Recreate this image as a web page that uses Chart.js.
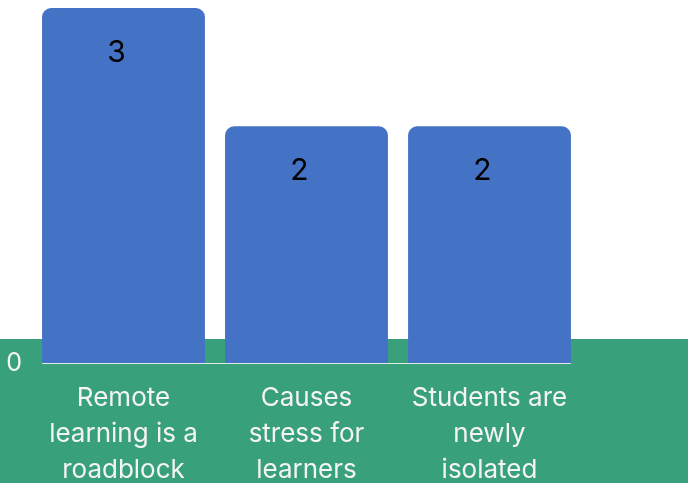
<!DOCTYPE html>
<html>
<head>
<meta charset="utf-8">
<script src="https://cdn.jsdelivr.net/npm/chart.js@4"></script>
<style>
  body { margin: 0; background: #fff; }
  #wrap { width: 688px; height: 483px; }
</style>
</head>
<body>
<div id="wrap"><canvas id="barChart"></canvas></div>
<script>
const categories = [
  ["Remote", "learning is a", "roadblock"],
  ["Causes", "stress for", "learners"],
  ["Students are", "newly", "isolated"]
];
const counts = [3, 2, 2];
const yMax = 3;

// green band behind the axis area
const bandPlugin = {
  id: "band",
  beforeDraw(chart) {
    const { ctx, chartArea, width, height } = chart;
    ctx.save();
    ctx.fillStyle = "#38a07a";
    ctx.fillRect(0, chartArea.bottom - 24, width, height);
    // thin baseline from first to last bar
    const bars = chart.getDatasetMeta(0).data;
    if (bars.length) {
      const first = bars[0], last = bars[bars.length - 1];
      ctx.strokeStyle = "#dfe9e4";
      ctx.lineWidth = 1;
      ctx.beginPath();
      ctx.moveTo(first.x - first.width / 2, chartArea.bottom + 0.5);
      ctx.lineTo(last.x + last.width / 2, chartArea.bottom + 0.5);
      ctx.stroke();
    }
    ctx.restore();
  }
};

// value labels inside bars
const valuePlugin = {
  id: "values",
  afterDatasetsDraw(chart) {
    const ctx = chart.ctx;
    const meta = chart.getDatasetMeta(0);
    ctx.save();
    ctx.font = "30px Inter";
    ctx.fillStyle = "#000";
    ctx.textAlign = "center";
    ctx.textBaseline = "middle";
    meta.data.forEach((bar, i) => {
      ctx.fillText(String(counts[i]), bar.x - 7, bar.y + 45);
    });
    ctx.restore();
  }
};

new Chart(document.getElementById("barChart"), {
  type: "bar",
  data: {
    labels: categories,
    datasets: [{
      data: counts,
      backgroundColor: "#4472c4",
      borderRadius: { topLeft: 9, topRight: 9 },
      borderSkipped: "bottom",
      barPercentage: 0.89,
      categoryPercentage: 1
    }]
  },
  options: {
    responsive: true,
    maintainAspectRatio: false,
    animation: false,
    layout: { padding: { top: 8, right: 107, left: 0, bottom: 0 } },
    plugins: { legend: { display: false }, tooltip: { enabled: false } },
    scales: {
      x: {
        grid: { display: false, drawTicks: false },
        border: { display: false },
        ticks: {
          color: "#f4f4f4",
          font: { family: "Inter", size: 26, lineHeight: 1.38 },
          padding: 17,
          maxRotation: 0,
          autoSkip: false
        },
        afterFit(scale) {
          scale.height = 120;
          scale.paddingLeft = 0;
          scale.paddingRight = 0;
        }
      },
      y: {
        min: 0,
        max: yMax,
        grid: { display: false, drawTicks: false },
        border: { display: false },
        ticks: {
          stepSize: 1,
          color: "#f4f4f4",
          font: { family: "Inter", size: 25 },
          padding: 10,
          callback: v => (v === 0 ? "0" : "")
        },
        afterFit(scale) {
          scale.width = 32;
          scale.paddingTop = 0;
          scale.paddingBottom = 0;
        }
      }
    }
  },
  plugins: [bandPlugin, valuePlugin]
});
</script>
</body>
</html>
